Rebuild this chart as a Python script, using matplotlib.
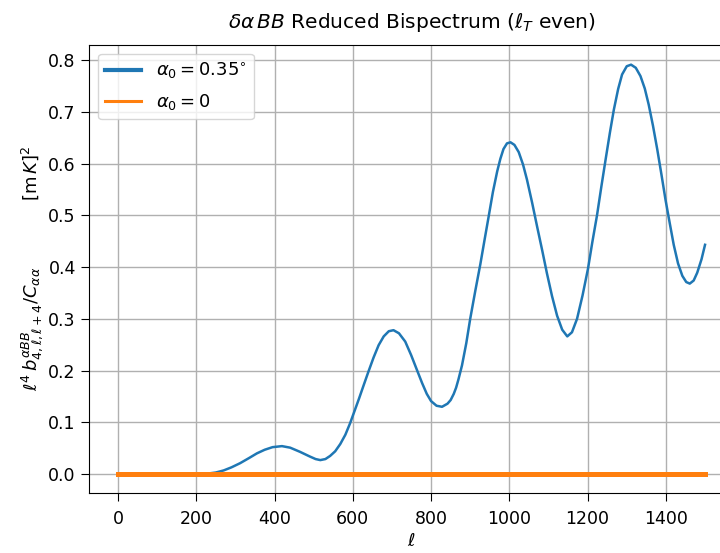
import numpy as np
import matplotlib
matplotlib.use("Agg")
import matplotlib.pyplot as plt

# multipole values and reduced bispectrum
ell = [0, 100, 200, 230, 250, 270, 290, 312, 335, 355, 375, 395, 419, 440, 465,
       490, 505, 517, 530, 542, 555, 568, 581, 593, 605, 616, 627, 640, 653,
       666, 679, 692, 704, 718, 734, 749, 764, 777, 789, 800, 814, 828, 842,
       850, 858, 864, 870, 879, 890, 900, 913, 926, 937, 947, 958, 969, 977,
       985, 994, 1003, 1013, 1024, 1035, 1045, 1058, 1071, 1084, 1096, 1109,
       1122, 1135, 1148, 1160, 1173, 1187, 1201, 1212, 1224, 1235, 1246, 1257,
       1267, 1278, 1288, 1300, 1311, 1323, 1335, 1346, 1356, 1367, 1378, 1389,
       1399, 1410, 1420, 1431, 1442, 1452, 1461, 1471, 1480, 1491, 1500]
b_alpha035 = [0.0, 0.0, 0.0, 0.001, 0.003, 0.007, 0.013, 0.021, 0.031, 0.040,
              0.047, 0.052, 0.054, 0.051, 0.043, 0.034, 0.029, 0.027, 0.029,
              0.035, 0.044, 0.058, 0.076, 0.098, 0.123, 0.146, 0.170, 0.198,
              0.225, 0.249, 0.266, 0.276, 0.278, 0.272, 0.256, 0.230, 0.201,
              0.176, 0.155, 0.141, 0.132, 0.130, 0.136, 0.143, 0.155, 0.167,
              0.183, 0.210, 0.253, 0.300, 0.354, 0.406, 0.454, 0.497, 0.545,
              0.585, 0.609, 0.628, 0.639, 0.641, 0.636, 0.622, 0.598, 0.569,
              0.525, 0.478, 0.432, 0.388, 0.344, 0.306, 0.279, 0.266, 0.274,
              0.300, 0.345, 0.397, 0.448, 0.500, 0.555, 0.608, 0.660, 0.704,
              0.744, 0.772, 0.788, 0.791, 0.785, 0.769, 0.745, 0.714, 0.673,
              0.627, 0.577, 0.530, 0.484, 0.443, 0.407, 0.383, 0.371, 0.368,
              0.374, 0.389, 0.415, 0.443]
ell_zero = [0, 1500]
b_alpha0 = [0.0, 0.0]

x_ticks = [0, 200, 400, 600, 800, 1000, 1200, 1400]
y_ticks = [0.0, 0.1, 0.2, 0.3, 0.4, 0.5, 0.6, 0.7, 0.8]

fig = plt.figure(figsize=(7.2, 5.53), dpi=100)
ax = fig.add_axes([89/720, 1 - 492.7/553, 645/720, 448/553])

ax.plot(ell, b_alpha035, color="#1f77b4", lw=1.8, label=r"$\alpha_0 = 0.35^{\circ}$")
ax.plot(ell_zero, b_alpha0, color="#ff7f0e", lw=3.6, label=r"$\alpha_0 = 0$")

ax.set_xlim(-74, 1574)
ax.set_ylim(-0.036, 0.8296)
ax.set_xticks(x_ticks)
ax.set_yticks(y_ticks)
ax.set_xticklabels([str(v) for v in x_ticks])
ax.set_yticklabels([f"{v:.1f}" for v in y_ticks])
ax.tick_params(labelsize=12.5, length=5.5)
ax.tick_params(axis="x", pad=7)
ax.tick_params(axis="y", pad=4)
ax.grid(True, color="#b0b0b0", lw=1.0)

ax.set_xlabel(r"$\ell$", fontsize=13, labelpad=3)
ax.set_ylabel(r"$\ell^4\, b^{\alpha BB}_{4,\ell,\ell+4}/C_{\alpha\alpha}\quad\quad\quad\;\;\; [\mathrm{m}\,K]^2$",
              fontsize=13, labelpad=2)
ax.set_title(r"$\delta\alpha\,BB$ Reduced Bispectrum ($\ell_T$ even)", fontsize=14.5, pad=12)

leg = ax.legend(loc="upper left", fontsize=13, labelspacing=0.6)
lines = leg.get_lines()
lines[0].set_linewidth(3.0)
lines[1].set_linewidth(2.2)

fig.savefig("out.png", dpi=100)
